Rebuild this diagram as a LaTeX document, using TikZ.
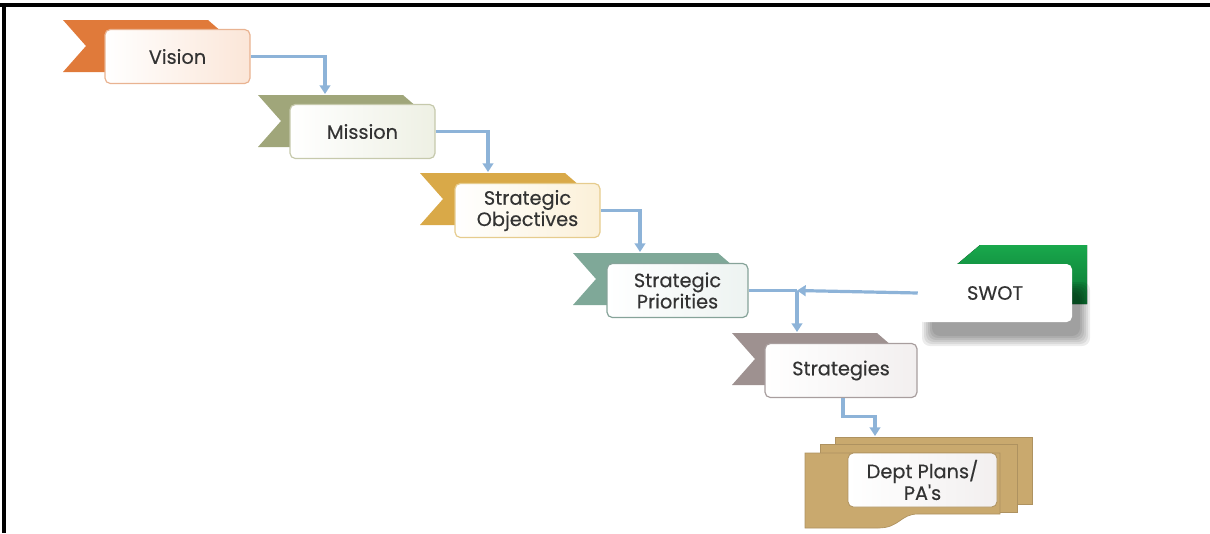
\documentclass[tikz,border=0pt]{standalone}
\usepackage{fontspec}
\setmainfont{Poppins}
\newfontfamily\lblfont{Poppins}[FakeBold=0.35]
\usetikzlibrary{arrows.meta,calc}
\definecolor{txt}{HTML}{333333}
\definecolor{flowc}{HTML}{8DB3D8}
\definecolor{cVision}{HTML}{E07A3A}
\definecolor{cMission}{HTML}{A0A67A}
\definecolor{cObj}{HTML}{D9A948}
\definecolor{cPri}{HTML}{7FA898}
\definecolor{cStr}{HTML}{9E9190}
\definecolor{tVision}{HTML}{FBE6D8}
\definecolor{tMission}{HTML}{EEF0E4}
\definecolor{tObj}{HTML}{FBF0D8}
\definecolor{tPri}{HTML}{EDF3F1}
\definecolor{tStr}{HTML}{F2EFEF}
\definecolor{bVision}{HTML}{E9B391}
\definecolor{bMission}{HTML}{C6C9AC}
\definecolor{bObj}{HTML}{E6CC8E}
\definecolor{bPri}{HTML}{86A399}
\definecolor{bStr}{HTML}{A89E9E}
\definecolor{swotTop}{HTML}{19A84C}
\definecolor{swotBot}{HTML}{0B7533}
\definecolor{sheet}{HTML}{C9A96E}
\definecolor{sheetb}{HTML}{AE9260}
\newcommand\bannershape[3]{\fill[#1] (#2,#3) -- ++(145,0) -- ++(30,26) -- ++(-30,26) -- ++(-145,0) -- ++(23,-26) -- cycle;}
\begin{document}
\begin{tikzpicture}[x=0.75pt,y=-0.75pt,
  lbl/.style={text=txt,font=\lblfont\fontsize{14.5}{13}\selectfont},
  stagebox/.style n args={3}{draw=#1,left color=white,right color=#2,line width=0.9pt,rounded corners=4pt,
     minimum width=#3*0.75pt,minimum height=54*0.75pt,inner sep=0pt,align=center,lbl},
  sheetshape/.style={fill=sheet,draw=sheetb,line width=0.5pt},
  flow/.style={draw=flowc,line width=2.4pt,-{Triangle[length=6.5pt,width=8pt]}},
  flowline/.style={draw=flowc,line width=2.4pt}]
\useasboundingbox (0,0) rectangle (1210,533);
\fill[black] (0,2.5) rectangle (1210,6.5);
\fill[black] (1.5,2.5) rectangle (5.5,533);
% banners
\bannershape{cVision}{63}{20}
\bannershape{cMission}{258}{95}
\bannershape{cObj}{420}{173}
\bannershape{cPri}{573}{253}
\bannershape{cStr}{732}{333}
% stage boxes
\node[stagebox={bVision}{tVision}{145}] (vision) at (177.5,56.5) {Vision};
\node[stagebox={bMission}{tMission}{145}] (mission) at (362.5,131.5) {Mission};
\node[stagebox={bObj}{tObj}{145}] (obj) at (527.5,210.5) {Strategic\\Objectives};
\node[stagebox={bPri}{tPri}{141}] (pri) at (677.5,290.5) {Strategic\\Priorities};
\node[stagebox={bStr}{tStr}{152}] (strat) at (841,370.5) {Strategies};
% SWOT
\fill[top color=swotTop,bottom color=swotBot] (955,266) -- (980,245) -- (1087,245) -- (1087,304) -- (1000,304) -- cycle;
\foreach \d in {0,2,...,10}{
  \fill[black,opacity=0.075,rounded corners=6pt] (932-\d,292-\d) rectangle (1080+\d,336+\d);
}
\node[fill=white,rounded corners=4pt,minimum width=154*0.75pt,minimum height=58*0.75pt,inner sep=0pt,lbl] (swot) at (995,293) {SWOT};
% Dept plans (stacked sheets)
\fill[sheetshape] (835,437) rectangle (1032,504);
\fill[sheetshape] (820,444) rectangle (1017,512);
\filldraw[sheetshape] (805,453) -- (1000,453) -- (1000,514) -- (918,514)
   .. controls (900,514) and (900,528) .. (878,528) -- (805,528) -- cycle;
\node[draw=sheetb,left color=white,right color=tStr,line width=0.6pt,rounded corners=4pt,
  minimum width=149*0.75pt,minimum height=54*0.75pt,inner sep=0pt,align=center,lbl] (dept) at (922.5,480) {Dept Plans/\\PA's};
% connectors
\coordinate (missiontop) at (325,94);
\coordinate (objtop) at (488,172);
\coordinate (pritop) at (640,252);
\coordinate (strtop) at (797,332);
\coordinate (junc) at (797,290.5);
\coordinate (depttop) at (875,436);
\draw[flow] (vision.east) -| (missiontop);
\draw[flow] (mission.east) -| (objtop);
\draw[flow] (obj.east) -| (pritop);
\draw[flowline] (pri.east) -- (junc);
\draw[flow] (junc) -- (strtop);
\draw[flow] (swot.west) -- (junc);
\draw[flow] ($(strat.south)+(2,0)$) -- ++(0,18) -| (depttop);
\end{tikzpicture}
\end{document}
